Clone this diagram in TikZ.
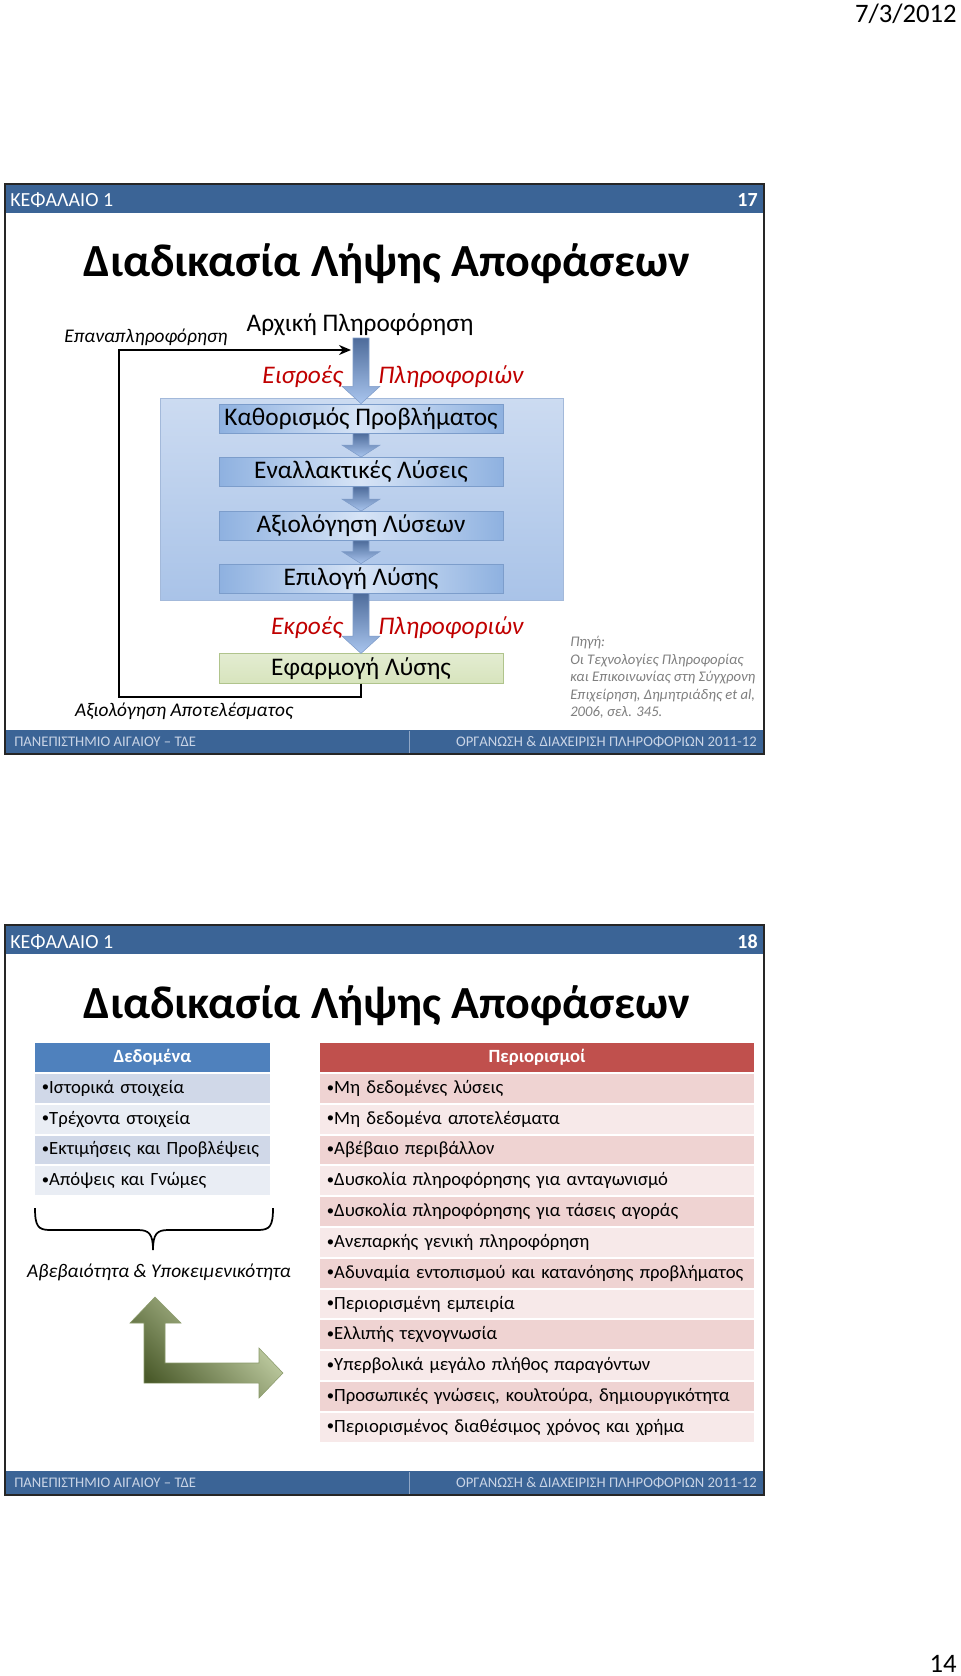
\documentclass[tikz,border=0pt]{standalone}
\usepackage{fontspec}
\setmainfont{Carlito}
\usetikzlibrary{arrows.meta,calc}
\definecolor{barblue}{HTML}{3B6496}
\definecolor{footgray}{HTML}{C9D4E6}
\definecolor{arrtop}{HTML}{4E6C9B}
\definecolor{arrbot}{HTML}{A9C5EE}
\definecolor{arrbd}{HTML}{7F9CC9}
\definecolor{paneltop}{HTML}{CCDBF1}
\definecolor{panelbot}{HTML}{A9C3E8}
\definecolor{panelbd}{HTML}{A3B9DA}
\definecolor{boxdark}{HTML}{8EB1E0}
\definecolor{boxlight}{HTML}{D7E4F6}
\definecolor{boxbd}{HTML}{7C9DCB}
\definecolor{greenbox}{HTML}{D7E4BD}
\definecolor{greenbd}{HTML}{B0C48C}
\definecolor{redtxt}{HTML}{C00000}
\definecolor{srcgray}{HTML}{7F7F7F}
\definecolor{dhead}{HTML}{4F81BD}
\definecolor{drowA}{HTML}{D0D8E8}
\definecolor{drowB}{HTML}{E9EDF4}
\definecolor{phead}{HTML}{C0504D}
\definecolor{prowA}{HTML}{EFD3D2}
\definecolor{prowB}{HTML}{F7E9E9}
\definecolor{gdark}{HTML}{4A5A2A}
\definecolor{glight}{HTML}{D5E1B8}
\definecolor{gbd}{HTML}{8A9A6A}

\newcommand{\bul}{\raisebox{1.1pt}{\fontsize{11}{11}\selectfont •}}

\newcommand{\slideframe}[3]{%
\begin{scope}[shift={(0,#1)}]
 \fill[barblue] (5,184) rectangle (764,213);
 \fill[barblue] (5,730) rectangle (764,754);
 \draw[footgray!60!barblue, line width=0.6pt] (409,731) -- (409,753);
 \draw[black!85, line width=1.5pt] (5,184) rectangle (764,754);
 \node[hdrtxt, anchor=base west] (ch#3) at (10,207) {ΚΕΦΑΛΑΙΟ 1};
 \node[hdrtxt, font=\fontsize{15}{18}\selectfont\bfseries, anchor=base east] (no#3) at (758,207) {#2};
 \node[ttl, anchor=base] (tt#3) at (387,277) {Διαδικασία Λήψης Αποφάσεων};
 \node[foottxt, anchor=base west] (fl#3) at (14,746) {ΠΑΝΕΠΙΣΤΗΜΙΟ ΑΙΓΑΙΟΥ – ΤΔΕ};
 \node[foottxt, anchor=base east] (fr#3) at (757,746) {ΟΡΓΑΝΩΣΗ \& ΔΙΑΧΕΙΡΙΣΗ ΠΛΗΡΟΦΟΡΙΩΝ 2011-12};
\end{scope}}

% block arrow from point #1 down to point #2, head length #3 (pt)
\newcommand{\blockdn}[3]{%
 \path[blarrow] let \p1=(#1), \p2=(#2) in
  (\x2-6pt,\y1) -- (\x2+6pt,\y1) -- (\x2+6pt,\y2+#3) -- (\x2+14.25pt,\y2+#3)
  -- (\x2,\y2) -- (\x2-14.25pt,\y2+#3) -- (\x2-6pt,\y2+#3) -- cycle;}

\begin{document}
\begin{tikzpicture}[x=0.75pt,y=-0.75pt,
 hdrtxt/.style={text=white, font=\fontsize{15}{18}\selectfont, inner sep=0pt},
 foottxt/.style={text=footgray, font=\fontsize{11}{13}\selectfont, inner sep=0pt},
 ttl/.style={font=\fontsize{34.5}{40}\selectfont\bfseries, inner sep=0pt},
 blarrow/.style={top color=arrtop, bottom color=arrbot, draw=arrbd, line width=0.4pt},
 stagebox/.style={draw=boxbd, line width=0.6pt, left color=boxdark, right color=boxdark,
   middle color=boxlight, minimum width=213pt, minimum height=21.75pt, inner sep=0pt,
   font=\fontsize{19}{22}\selectfont},
 implbox/.style={draw=greenbd, line width=0.6pt, top color=greenbox!70!white, bottom color=greenbox,
   minimum width=213pt, minimum height=22pt, inner sep=0pt, font=\fontsize{19}{22}\selectfont},
 bigtxt/.style={font=\fontsize{19}{22}\selectfont, inner sep=0pt},
 redit/.style={font=\fontsize{19}{22}\selectfont\itshape, text=redtxt, inner sep=0pt},
 smit/.style={font=\fontsize{14.5}{17}\selectfont\itshape, inner sep=0pt},
 fbline/.style={line width=1.5pt, -{Stealth[length=9pt,width=7.5pt]}},
 srctxt/.style={font=\fontsize{11}{13.2}\selectfont\itshape, text=srcgray, align=left, inner sep=0pt},
 thead/.style={minimum height=21.75pt, inner sep=0pt, text=white, font=\fontsize{14}{16}\selectfont\bfseries},
 trow/.style={minimum height=21.6pt, inner xsep=5pt, inner ysep=0pt, align=left, font=\fontsize{14}{16}\selectfont},
 drow/.style={trow, text width=166.25pt},
 prow/.style={trow, text width=315.5pt}
]
\useasboundingbox (0,0) rectangle (960,1676);
\fill[white] (0,0) rectangle (960,1676);

\node[anchor=base east, font=\fontsize{20}{24}\selectfont, inner sep=0pt] (date) at (957,23) {7/3/2012};
\node[anchor=base east, font=\fontsize{20}{24}\selectfont, inner sep=0pt] (pg) at (957,1672) {14};

% ---------------- slide 17 ----------------
\slideframe{0}{17}{a}

\node[draw=panelbd, line width=0.6pt, top color=paneltop, bottom color=panelbot,
  minimum width=302.25pt, minimum height=151.5pt, inner sep=0pt] (panel) at (361.5,499) {};

\node[stagebox] (b1) at (361,418.5) {Καθορισμός Προβλήματος};
\node[stagebox] (b2) at (361,472) {Εναλλακτικές Λύσεις};
\node[stagebox] (b3) at (361,526) {Αξιολόγηση Λύσεων};
\node[stagebox] (b4) at (361,578.5) {Επιλογή Λύσης};
\node[implbox] (impl) at (361,668.5) {Εφαρμογή Λύσης};

\node[bigtxt] (ai) at (360,325) {Αρχική Πληροφόρηση};
\node[smit] (epan) at (146,337) {Επαναπληροφόρηση};
\node[redit, anchor=base east] (eisr) at (343,383) {Εισροές};
\node[redit, anchor=base west] (pl1) at (378,383) {Πληροφοριών};
\node[redit, anchor=base east] (ekr) at (343,634) {Εκροές};
\node[redit, anchor=base west] (pl2) at (378,634) {Πληροφοριών};
\node[smit] (axap) at (184,711) {Αξιολόγηση Αποτελέσματος};
\node[srctxt, anchor=north west] (src) at (570,636)
 {Πηγή:\\Οι Τεχνολογίες Πληροφορίας\\και Επικοινωνίας στη Σύγχρονη\\Επιχείρηση, Δημητριάδης et al,\\2006, σελ. 345.};

\coordinate (a1top) at (361,338);
\blockdn{a1top}{b1.north}{13pt}
\blockdn{b1.south}{b2.north}{9pt}
\blockdn{b2.south}{b3.north}{9pt}
\blockdn{b3.south}{b4.north}{9pt}
\blockdn{b4.south}{impl.north}{13pt}

\coordinate (fbL) at (119,697);
\coordinate (fbT) at (119,350);
\coordinate (fbE) at (351,350);
\draw[fbline] (impl.south) |- (fbL) -- (fbT) -- (fbE);

% ---------------- slide 18 ----------------
\slideframe{741}{18}{b}

\node[thead, fill=dhead, minimum width=176.25pt] (dh) at (152.5,1057.5) {Δεδομένα};
\node[thead, fill=phead, minimum width=325.5pt] (ph) at (537,1057.5) {Περιορισμοί};

\node[drow, fill=drowA, anchor=west] (d1) at (35,1088.4) {\bul Ιστορικά στοιχεία};
\node[drow, fill=drowB, anchor=west] (d2) at (35,1119.2) {\bul Τρέχοντα στοιχεία};
\node[drow, fill=drowA, anchor=west] (d3) at (35,1150.0) {\bul Εκτιμήσεις και Προβλέψεις};
\node[drow, fill=drowB, anchor=west] (d4) at (35,1180.8) {\bul Απόψεις και Γνώμες};

\foreach \t [count=\i] in {Μη δεδομένες λύσεις, Μη δεδομένα αποτελέσματα, Αβέβαιο περιβάλλον,
  Δυσκολία πληροφόρησης για ανταγωνισμό, Δυσκολία πληροφόρησης για τάσεις αγοράς,
  Ανεπαρκής γενική πληροφόρηση, Αδυναμία εντοπισμού και κατανόησης προβλήματος,
  Περιορισμένη εμπειρία, Ελλιπής τεχνογνωσία, Υπερβολικά μεγάλο πλήθος παραγόντων,
  {Προσωπικές γνώσεις, κουλτούρα, δημιουργικότητα}, Περιορισμένος διαθέσιμος χρόνος και χρήμα}{
  \pgfmathsetmacro\yy{1088.4+(\i-1)*30.8}
  \ifodd\i\relax\def\rc{prowA}\else\def\rc{prowB}\fi
  \node[prow, fill=\rc, anchor=west] (p\i) at (320,\yy) {\bul\t};
}

% brace
\draw[line width=1.3pt] (35,1208) .. controls (35,1226) and (38,1230) .. (50,1230) -- (138,1230)
  .. controls (149,1230) and (153,1234) .. (153,1250)
  .. controls (153,1234) and (157,1230) .. (168,1230) -- (258,1230)
  .. controls (270,1230) and (273,1226) .. (273,1208);

\node[smit] (unc) at (159,1272) {Αβεβαιότητα \& Υποκειμενικότητα};

% bent green arrow
\path[top color=glight, bottom color=gdark, shading angle=-45, draw=gbd, line width=0.4pt]
 (155,1297) -- (181,1323) -- (165,1323) -- (165,1363) -- (259,1363) -- (259,1348)
 -- (283,1373) -- (259,1398) -- (259,1383) -- (144,1383) -- (144,1323) -- (130,1323) -- cycle;

\end{tikzpicture}
\end{document}
